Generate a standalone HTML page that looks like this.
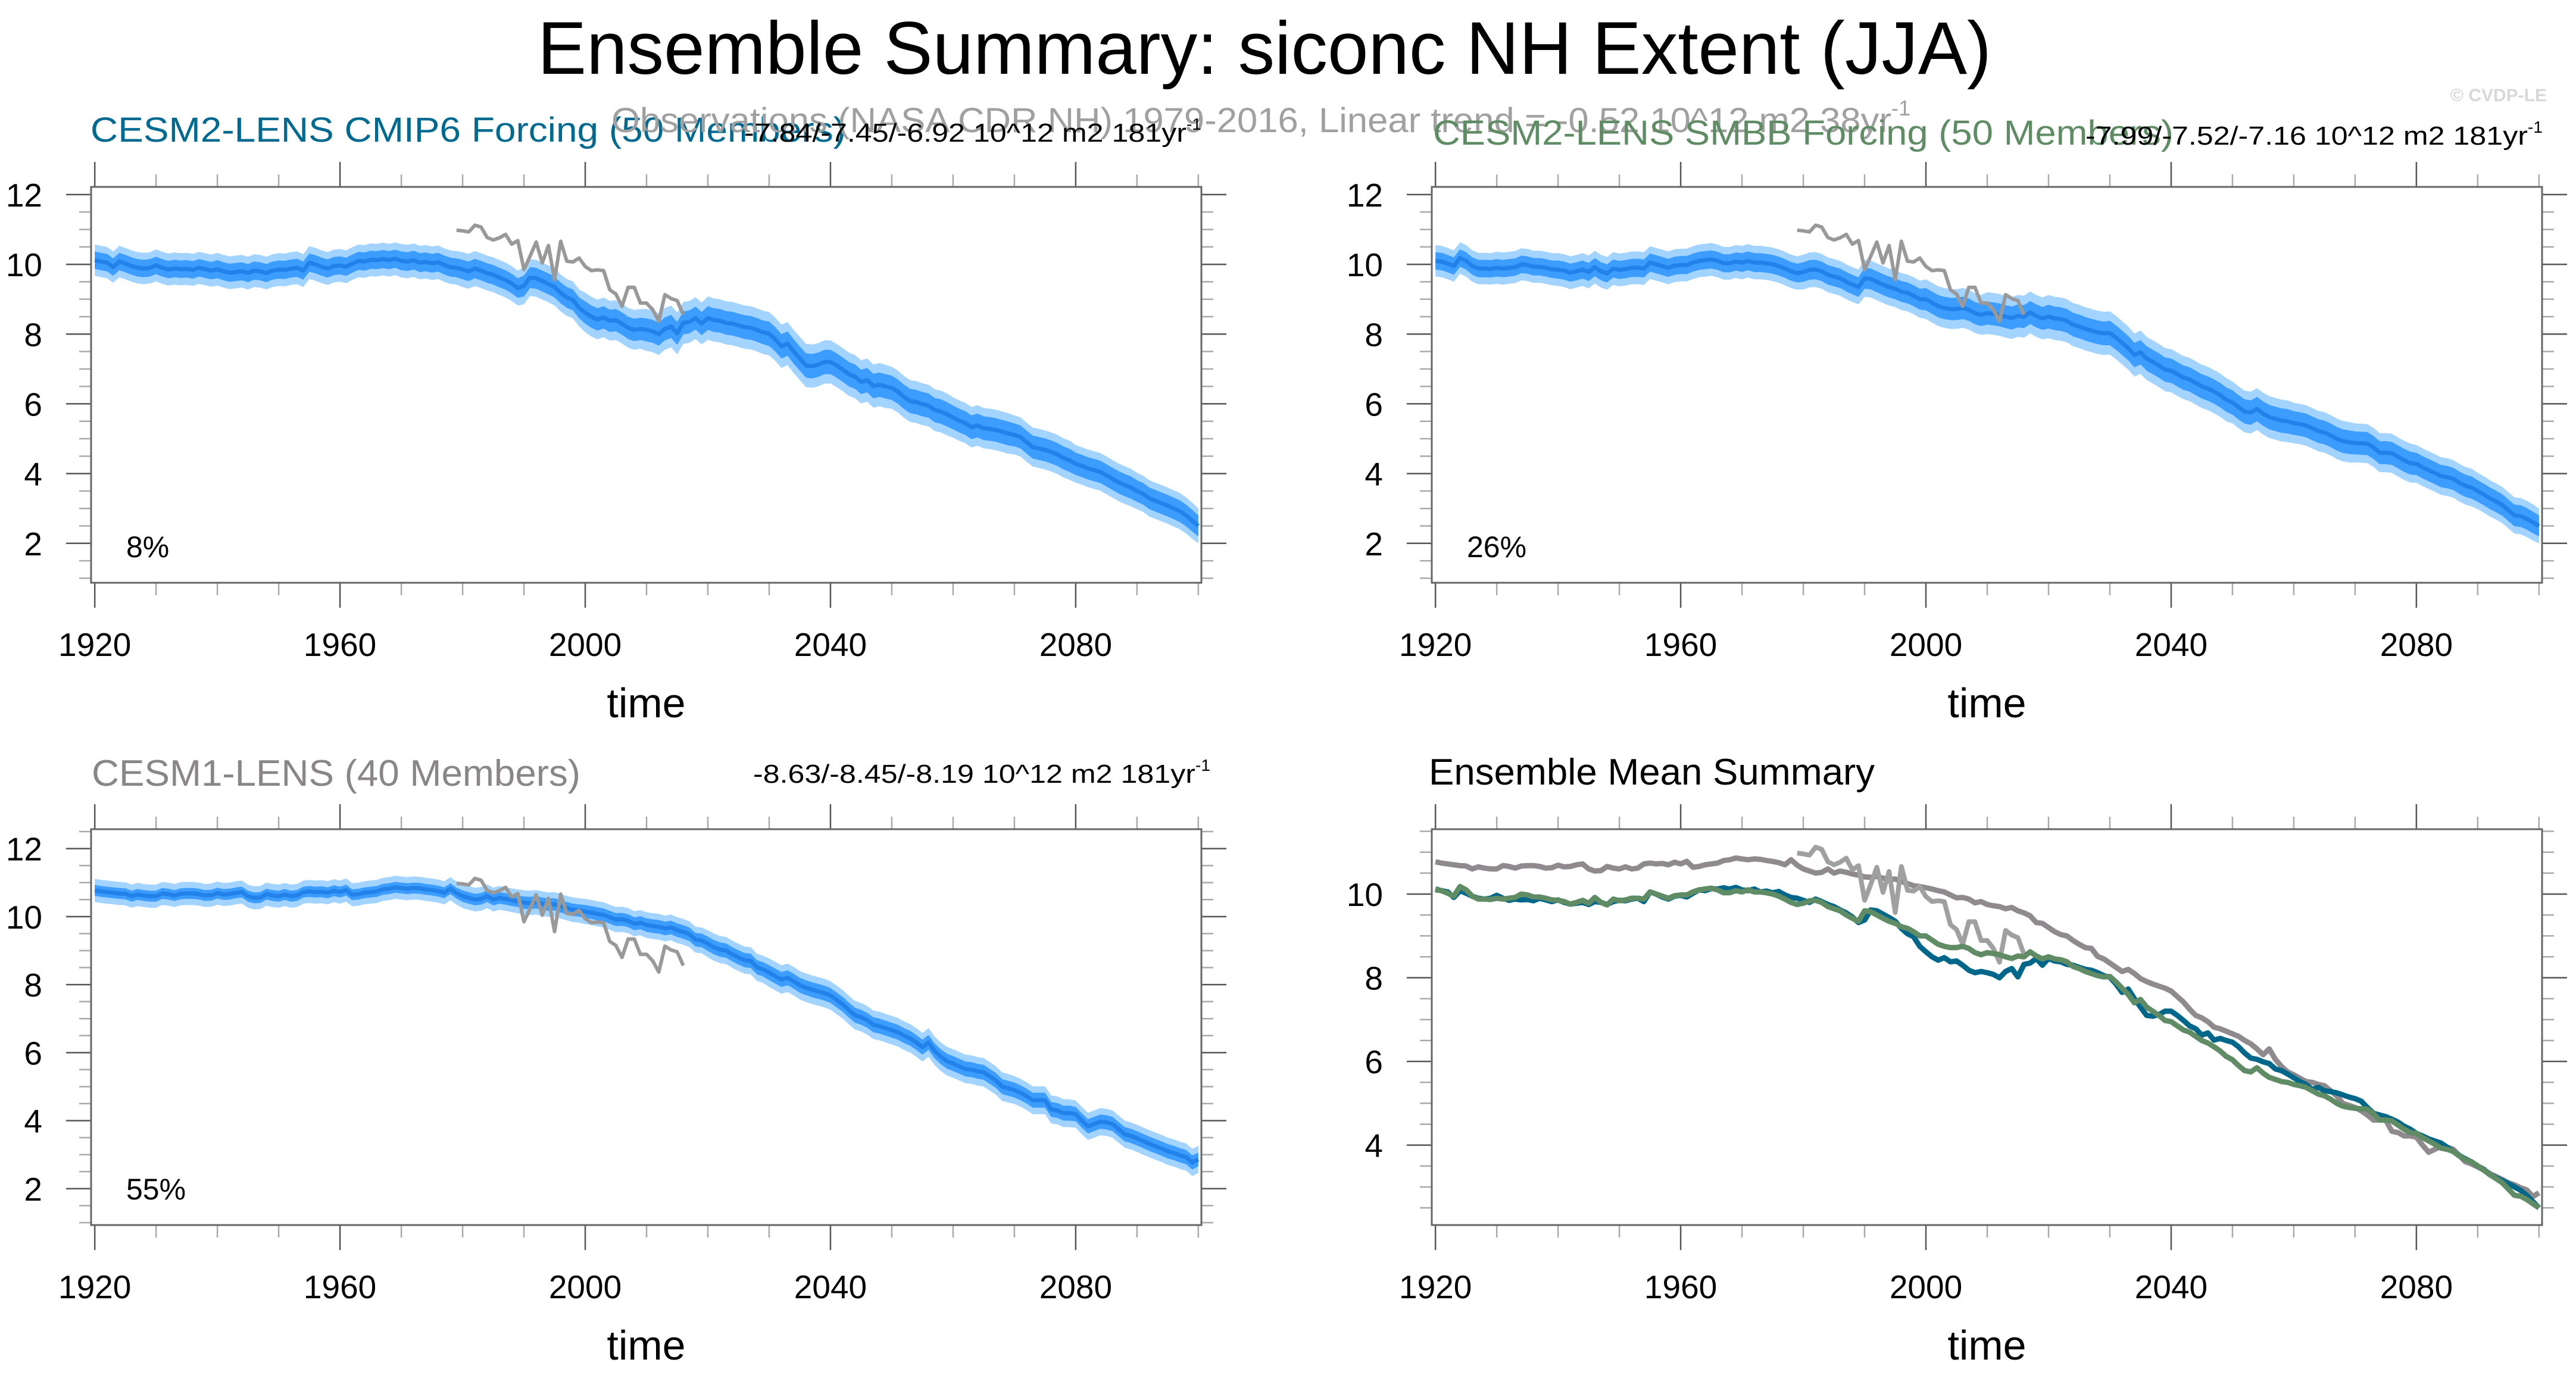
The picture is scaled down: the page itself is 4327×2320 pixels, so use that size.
<!DOCTYPE html>
<html><head><meta charset="utf-8"><style>
html,body{margin:0;padding:0;background:#fff;}
svg{display:block;font-family:"Liberation Sans",Arial,sans-serif;}
</style></head><body>
<svg id="chart" width="4327" height="2320" viewBox="0 0 4327 2320" xmlns="http://www.w3.org/2000/svg">
<rect width="4327" height="2320" fill="#fff"/>
<text x="903" y="124" font-size="125" textLength="2442" lengthAdjust="spacingAndGlyphs">Ensemble Summary: siconc NH Extent (JJA)</text>
<text x="4278" y="170" font-size="30" font-weight="bold" fill="#d8d8d8" text-anchor="end">© CVDP-LE</text>
<text x="152" y="238" font-size="58" fill="#00698f" textLength="1269" lengthAdjust="spacingAndGlyphs">CESM2-LENS CMIP6 Forcing (50 Members)</text>
<text x="1027" y="222" font-size="58" fill="#a0a0a0"><tspan textLength="2150" lengthAdjust="spacingAndGlyphs">Observations (NASA CDR NH) 1979-2016, Linear trend = -0.52 10^12 m2 38yr</tspan><tspan font-size="36" dy="-28">-1</tspan></text>
<text x="1250" y="238" font-size="44"><tspan textLength="743" lengthAdjust="spacingAndGlyphs">-7.84/-7.45/-6.92 10^12 m2 181yr</tspan><tspan font-size="28" dy="-20">-1</tspan></text>
<text x="2407" y="243" font-size="58" fill="#5f8c64" textLength="1244" lengthAdjust="spacingAndGlyphs">CESM2-LENS SMBB Forcing (50 Members)</text>
<text x="3503" y="243" font-size="44"><tspan textLength="743" lengthAdjust="spacingAndGlyphs">-7.99/-7.52/-7.16 10^12 m2 181yr</tspan><tspan font-size="28" dy="-20">-1</tspan></text>
<text x="154" y="1320" font-size="62" fill="#8a8587" textLength="821" lengthAdjust="spacingAndGlyphs">CESM1-LENS (40 Members)</text>
<text x="1265" y="1315" font-size="44"><tspan textLength="743" lengthAdjust="spacingAndGlyphs">-8.63/-8.45/-8.19 10^12 m2 181yr</tspan><tspan font-size="28" dy="-20">-1</tspan></text>
<text x="2400" y="1318" font-size="62" textLength="749" lengthAdjust="spacingAndGlyphs">Ensemble Mean Summary</text>
</svg>
<script>
const years0 = 1920;
const cmip6Mean = [10.12,10.08,10.05,9.92,10.08,10.02,9.95,9.9,9.88,9.9,
9.97,9.9,9.85,9.88,9.86,9.87,9.84,9.9,9.86,9.82,
9.86,9.8,9.76,9.78,9.8,9.75,9.82,9.8,9.75,9.82,
9.85,9.84,9.88,9.9,9.82,10.05,10.0,9.93,9.88,9.95,
9.97,9.93,10.02,10.1,10.08,10.13,10.12,10.15,10.12,10.16,
10.1,10.08,10.12,10.05,10.07,10.03,10.06,9.98,9.92,9.9,
9.85,9.8,9.88,9.82,9.75,9.7,9.62,9.55,9.45,9.32,
9.38,9.62,9.6,9.52,9.44,9.35,9.18,9.05,8.98,8.75,
8.62,8.5,8.42,8.48,8.38,8.4,8.3,8.18,8.12,8.15,
8.12,8.08,8.0,8.15,8.22,8.02,8.32,8.35,8.46,8.3,
8.46,8.4,8.38,8.32,8.3,8.25,8.2,8.18,8.12,8.05,
8.01,7.85,7.65,7.73,7.5,7.3,7.1,7.08,7.12,7.2,
7.2,7.1,6.98,6.85,6.78,6.63,6.68,6.51,6.55,6.5,
6.46,6.35,6.2,6.08,6.05,5.99,5.95,5.82,5.78,5.7,
5.61,5.52,5.45,5.33,5.38,5.3,5.28,5.25,5.2,5.15,
5.11,5.05,4.9,4.76,4.72,4.68,4.62,4.55,4.45,4.38,
4.28,4.22,4.15,4.1,4.05,3.95,3.85,3.75,3.67,3.6,
3.5,3.42,3.29,3.22,3.15,3.08,3.0,2.92,2.8,2.65,
2.5];
const smbbMean = [10.1,10.08,10.02,9.95,10.18,10.1,9.95,9.88,9.88,9.87,
9.9,9.88,9.9,9.92,10.0,9.98,9.93,9.93,9.9,9.86,
9.85,9.82,9.76,9.8,9.85,9.78,9.92,9.8,9.74,9.88,
9.84,9.86,9.9,9.9,9.88,10.05,10.0,9.95,9.9,9.96,
9.98,9.98,10.05,10.1,10.12,10.14,10.1,10.03,10.03,10.08,
10.05,10.1,10.05,10.05,10.03,10.0,9.95,9.88,9.8,9.75,
9.78,9.84,9.85,9.8,9.7,9.65,9.6,9.5,9.42,9.35,
9.6,9.58,9.5,9.42,9.35,9.3,9.22,9.18,9.1,9.0,
9.0,8.9,8.8,8.75,8.72,8.72,8.75,8.7,8.6,8.55,
8.6,8.58,8.55,8.5,8.46,8.52,8.5,8.62,8.52,8.45,
8.5,8.45,8.43,8.38,8.27,8.22,8.15,8.1,8.05,8.02,
8.03,7.9,7.75,7.6,7.4,7.48,7.3,7.2,7.1,6.98,
6.95,6.85,6.75,6.7,6.6,6.5,6.44,6.35,6.25,6.12,
6.04,5.9,5.78,5.75,5.85,5.72,5.62,5.57,5.52,5.5,
5.45,5.42,5.38,5.3,5.22,5.18,5.1,5.0,4.93,4.9,
4.88,4.87,4.86,4.75,4.6,4.6,4.58,4.48,4.38,4.3,
4.28,4.18,4.1,4.02,3.93,3.9,3.85,3.74,3.65,3.6,
3.5,3.4,3.29,3.2,3.1,2.95,2.8,2.78,2.7,2.6,
2.5];
const cesm1Mean = [10.77,10.74,10.72,10.7,10.68,10.67,10.6,10.65,10.62,10.6,
10.6,10.68,10.66,10.62,10.67,10.68,10.68,10.66,10.62,10.63,
10.69,10.65,10.66,10.7,10.72,10.6,10.55,10.56,10.66,10.62,
10.6,10.65,10.6,10.62,10.72,10.74,10.72,10.73,10.7,10.76,
10.72,10.78,10.64,10.66,10.7,10.72,10.74,10.8,10.82,10.86,
10.84,10.82,10.84,10.83,10.8,10.78,10.75,10.7,10.82,10.69,
10.6,10.55,10.5,10.52,10.6,10.5,10.55,10.52,10.48,10.45,
10.41,10.4,10.42,10.38,10.35,10.36,10.3,10.25,10.2,10.18,
10.15,10.12,10.08,10.05,9.98,9.91,9.92,9.88,9.79,9.82,
9.75,9.72,9.7,9.65,9.68,9.6,9.55,9.48,9.32,9.3,
9.2,9.1,9.03,9.0,8.89,8.8,8.72,8.7,8.51,8.45,
8.35,8.25,8.15,8.2,8.1,7.98,7.91,7.85,7.8,7.75,
7.68,7.55,7.42,7.25,7.1,7.04,6.95,6.82,6.78,6.72,
6.66,6.6,6.5,6.42,6.3,6.16,6.3,6.05,5.88,5.75,
5.68,5.6,5.52,5.5,5.45,5.42,5.3,5.18,5.0,4.95,
4.9,4.82,4.72,4.6,4.6,4.6,4.33,4.3,4.22,4.22,
4.19,4.0,3.83,3.9,3.97,3.95,3.9,3.75,3.6,3.55,
3.48,3.4,3.32,3.25,3.18,3.1,3.05,2.98,2.93,2.77,
2.86];
const obsStart = 1979;
const obsValues = [10.98,10.96,10.93,11.12,11.07,10.77,10.7,10.76,10.86,10.58,10.68,9.85,10.23,10.64,10.04,10.54,9.56,10.66,10.09,10.07,10.18,9.94,9.82,9.84,9.82,9.27,9.15,8.8,9.34,9.34,8.89,8.89,8.7,8.37,9.13,9.02,8.96,8.56];
// per-decade half-spreads (inner: 25-75%, outer: 10-90%)
const cmip6Inner = [0.25,0.25,0.26,0.26,0.26,0.27,0.28,0.3,0.32,0.33,0.34,0.35,0.35,0.35,0.34,0.33,0.32,0.31,0.3];
const cmip6Outer = [0.45,0.46,0.47,0.47,0.47,0.48,0.5,0.53,0.57,0.6,0.62,0.62,0.62,0.6,0.58,0.56,0.54,0.52,0.5];
const smbbInner = [0.25,0.25,0.26,0.26,0.26,0.27,0.28,0.3,0.32,0.33,0.34,0.35,0.35,0.35,0.34,0.33,0.32,0.31,0.3];
const smbbOuter = [0.45,0.46,0.47,0.47,0.47,0.48,0.5,0.53,0.57,0.6,0.62,0.62,0.62,0.6,0.58,0.56,0.54,0.52,0.5];
const cesm1Inner = [0.16,0.16,0.16,0.16,0.16,0.16,0.17,0.18,0.19,0.2,0.21,0.22,0.22,0.22,0.22,0.22,0.21,0.21,0.2];
const cesm1Outer = [0.34,0.34,0.34,0.34,0.34,0.34,0.35,0.36,0.37,0.38,0.4,0.42,0.42,0.42,0.42,0.41,0.4,0.4,0.4];
const xTickLabels = [1920,1960,2000,2040,2080];
const bandYTicks = [2,4,6,8,10,12];
const meanYTicks = [4,6,8,10];
const percentLabels = ["8%","26%","55%"];

const NS = "http://www.w3.org/2000/svg";
const svg = document.getElementById('chart');
function mk(tag, attrs, parent){
  const e = document.createElementNS(NS, tag);
  for (const k in attrs) e.setAttribute(k, attrs[k]);
  (parent||svg).appendChild(e);
  return e;
}
function makeAxes(p){
  const g = mk('g', {});
  
  
  p.xs = yr => p.x0 + (yr - 1919.4) * (p.x1 - p.x0) / 181.1;
  p.ys = v => p.y1 - (v - p.ymin) * (p.y1 - p.y0) / (p.ymax - p.ymin);
  for (let yr = 1920; yr <= 2100; yr += 10) {
    const major = (yr - 1920) % 40 === 0 && yr <= 2080;
    const len = major ? 42 : 21, col = major ? '#555' : '#aaa';
    const x = p.xs(yr);
    const t1 = mk('line', {x1:x, x2:x, y1:p.y0, y2:p.y0-len, stroke:col, 'stroke-width':2.5}, g);
    
    
    const t2 = mk('line', {x1:x, x2:x, y1:p.y1, y2:p.y1+len, stroke:col, 'stroke-width':2.5}, g);
    
    
  }
  xTickLabels.forEach(yr => {
    const t = mk('text', {x:p.xs(yr), y:p.y1+123, 'font-size':55, 'text-anchor':'middle'}, g);
    t.textContent = yr;
    
    
  });
  for (let v = Math.ceil(p.ymin*2)/2; v <= p.ymax; v += 0.5) {
    const major = p.yticks.indexOf(v) >= 0;
    const len = major ? 42 : 20, col = major ? '#555' : '#aaa';
    const y = p.ys(v);
    const a = mk('line', {x1:p.x0, x2:p.x0-len, y1:y, y2:y, stroke:col, 'stroke-width':2.5}, g);
    
    
    const b = mk('line', {x1:p.x1, x2:p.x1+len, y1:y, y2:y, stroke:col, 'stroke-width':2.5}, g);
    
    
  }
  p.yticks.forEach(v => {
    const t = mk('text', {x:p.x0-82, y:p.ys(v)+20, 'font-size':55, 'text-anchor':'end'}, g);
    t.textContent = v;
    
    
  });
  const xt = mk('text', {x:(p.x0+p.x1)/2, y:p.y1+226, 'font-size':70, 'text-anchor':'middle'}, g);
  xt.textContent = 'time';
  
  
}
function frame(p){
  const r = mk('rect', {x:p.x0, y:p.y0, width:p.x1-p.x0, height:p.y1-p.y0, fill:'none', stroke:'#666', 'stroke-width':3});
  
  
}
function linePath(p, vals, start){
  return vals.map((v,i)=>(i?'L':'M')+p.xs(start+i).toFixed(1)+','+p.ys(v).toFixed(1)).join('');
}
function bandPath(p, vals, spread){
  const up = vals.map((v,i)=>[p.xs(years0+i), p.ys(v + spread[Math.floor(i/10)])]);
  const dn = vals.map((v,i)=>[p.xs(years0+i), p.ys(v - spread[Math.floor(i/10)])]).reverse();
  return 'M' + up.concat(dn).map(q=>q[0].toFixed(1)+','+q[1].toFixed(1)).join('L') + 'Z';
}
function bandPanel(p, mean, inner, outer, pct){
  makeAxes(p);
  const o = mk('path', {d:bandPath(p, mean, outer), fill:'#a3d3ff'});
  
  
  const i = mk('path', {d:bandPath(p, mean, inner), fill:'#3d9dff'});
  
  
  const m = mk('path', {d:linePath(p, mean, years0), fill:'none', stroke:'#2382ea', 'stroke-width':7, 'stroke-linejoin':'round'});
  
  
  const ob = mk('path', {d:linePath(p, obsValues, obsStart), fill:'none', stroke:'#999', 'stroke-width':6, 'stroke-linejoin':'round'});
  
  
  const t = mk('text', {x:p.x0+59, y:p.y1-43, 'font-size':50});
  t.textContent = pct;
  
  
  frame(p);
}
const pTL = {name:'cmip6-panel', x0:153, x1:2018, y0:314, y1:979, ymin:0.87, ymax:12.22, yticks:bandYTicks};
const pTR = {name:'smbb-panel', x0:2405, x1:4270, y0:314, y1:979, ymin:0.87, ymax:12.22, yticks:bandYTicks};
const pBL = {name:'cesm1-panel', x0:153, x1:2018, y0:1393, y1:2058, ymin:0.93, ymax:12.57, yticks:bandYTicks};
const pBR = {name:'ensemble-mean-panel', x0:2405, x1:4270, y0:1393, y1:2058, ymin:2.09, ymax:11.55, yticks:meanYTicks};
bandPanel(pTL, cmip6Mean, cmip6Inner, cmip6Outer, percentLabels[0]);
bandPanel(pTR, smbbMean, smbbInner, smbbOuter, percentLabels[1]);
bandPanel(pBL, cesm1Mean, cesm1Inner, cesm1Outer, percentLabels[2]);
makeAxes(pBR);
const s1 = mk('path', {d:linePath(pBR, cesm1Mean, years0), fill:'none', stroke:'#8f8a8e', 'stroke-width':9, 'stroke-linejoin':'round'});


const s2 = mk('path', {d:linePath(pBR, obsValues, obsStart), fill:'none', stroke:'#a0a0a0', 'stroke-width':8, 'stroke-linejoin':'round'});


const s3 = mk('path', {d:linePath(pBR, cmip6Mean, years0), fill:'none', stroke:'#00678a', 'stroke-width':9, 'stroke-linejoin':'round'});


const s4 = mk('path', {d:linePath(pBR, smbbMean, years0), fill:'none', stroke:'#5f8c64', 'stroke-width':9, 'stroke-linejoin':'round'});


frame(pBR);
</script>
</body></html>
